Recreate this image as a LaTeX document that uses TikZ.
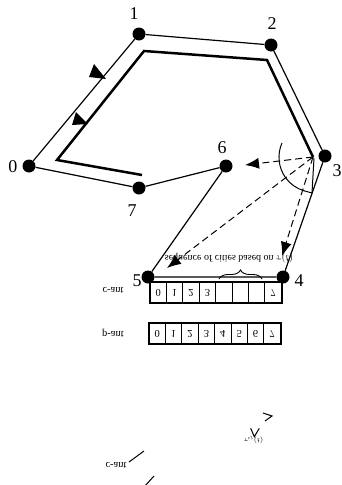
\documentclass[tikz,border=0pt]{standalone}
\usepackage{fontspec}
\setmainfont{Liberation Serif}
\usetikzlibrary{arrows.meta,decorations.pathreplacing}
\newcommand\flp[1]{\scalebox{1}[-1]{#1}}
\begin{document}
\begin{tikzpicture}[x=1pt,y=-1pt,
  city/.style={circle,fill=black,inner sep=0pt,minimum size=13pt},
  edge/.style={line width=1.2pt},
  thickpath/.style={line width=2.5pt,line join=miter},
  lab/.style={font=\fontsize{18}{18}\selectfont,inner sep=0pt},
  dasharrow/.style={line width=1pt,dash pattern=on 7pt off 4pt,-{Latex[length=14pt,width=11pt]}},
  cell/.style={draw,line width=0.9pt,minimum width=16.4pt,minimum height=21pt,inner sep=0pt,font=\fontsize{10.5}{10.5}\selectfont},
  small/.style={font=\fontsize{10}{10}\selectfont,inner sep=0pt},
  antlab/.style={font=\fontsize{10.5}{10.5}\selectfont,inner sep=0pt},
  tiny/.style={font=\fontsize{7.5}{7.5}\selectfont,inner sep=0pt}]
\useasboundingbox (0,0) rectangle (342,485);
% cities
\node[city] (c0) at (29,166) {};
\node[city] (c1) at (139,34) {};
\node[city] (c2) at (271,45) {};
\node[city] (c3) at (325,156) {};
\node[city] (c4) at (283,277) {};
\node[city] (c5) at (148,277) {};
\node[city] (c6) at (226,166) {};
\node[city] (c7) at (139,188) {};
% labels
\node[lab] (l0) at (13,167) {0};
\node[lab] (l1) at (134,14) {1};
\node[lab] (l2) at (272,24) {2};
\node[lab] (l3) at (337,171) {3};
\node[lab] (l4) at (299,281) {4};
\node[lab] (l5) at (137,281) {5};
\node[lab] (l6) at (222,148) {6};
\node[lab] (l7) at (132,211) {7};
% tour edges
\draw[edge] (c0) -- (c1) -- (c2) -- (c3) -- (c4) -- (c5) -- (c6) -- (c7) -- (c0);
% thick inner path
\coordinate (q0) at (142,175);
\coordinate (q1) at (57,160);
\coordinate (q2) at (144,51);
\coordinate (q3) at (267,60);
\coordinate (p3) at (313,157);
\draw[thickpath] (q0) -- (q1) -- (q2) -- (q3) -- (p3);
% direction triangles
\fill (94,64) -- (106,79) -- (89,77) -- cycle;
\fill (76,112) -- (88,124) -- (72,125) -- cycle;
% dashed arrows
\coordinate (t6) at (245,165);
\coordinate (t5) at (167,268);
\coordinate (t4) at (282,256);
\draw[dasharrow] (p3) -- (t6);
\draw[dasharrow] (p3) -- (t5);
\draw[dasharrow] (p3) -- (t4);
% angle marker
\draw[line width=1pt] (282,143) arc[start angle=204,end angle=106,radius=35] -- (312,193) -- (314,158);
% brace and caption
\coordinate (b1) at (219,279);
\coordinate (b2) at (262,279);
\draw[line width=0.9pt,decorate,decoration={brace,amplitude=9pt}] (b1) -- (b2);
\node[small] (seq) at (229,258) {\flp{sequence of cities based on $\tau(t)$}};
% c-ant array
\foreach \i/\t in {0/0,1/1,2/2,3/3,4/,5/,6/,7/7}
  \node[cell] (ca\i) at (158.2+16.4*\i,292.5) {\flp{\t}};
\draw[line width=2pt] (ca0.north west) rectangle (ca7.south east);
\node[antlab] (cantlab) at (113,290) {\flp{c-ant}};
% p-ant array
\foreach \i in {0,...,7}
  \node[cell] (pa\i) at (157.2+16.4*\i,333.5) {\flp{\i}};
\draw[line width=2pt] (pa0.north west) rectangle (pa7.south east);
\node[antlab] (pantlab) at (113,333) {\flp{p-ant}};
% lower fragments
\draw[line width=1pt] (263,413) -- (272,416) -- (265,421);
\draw[line width=1pt] (250.7,428.3) -- (254.3,436.7) -- (259.3,428.3);
\node[tiny] (tau) at (253.5,440) {\flp{$\tau_{ij}(t)$}};
\node[antlab] (cant2) at (116,465) {\flp{c-ant}};
\draw[line width=1pt] (129,462) -- (144,451);
\draw[line width=1pt] (144,487) -- (154,476);
\end{tikzpicture}
\end{document}
